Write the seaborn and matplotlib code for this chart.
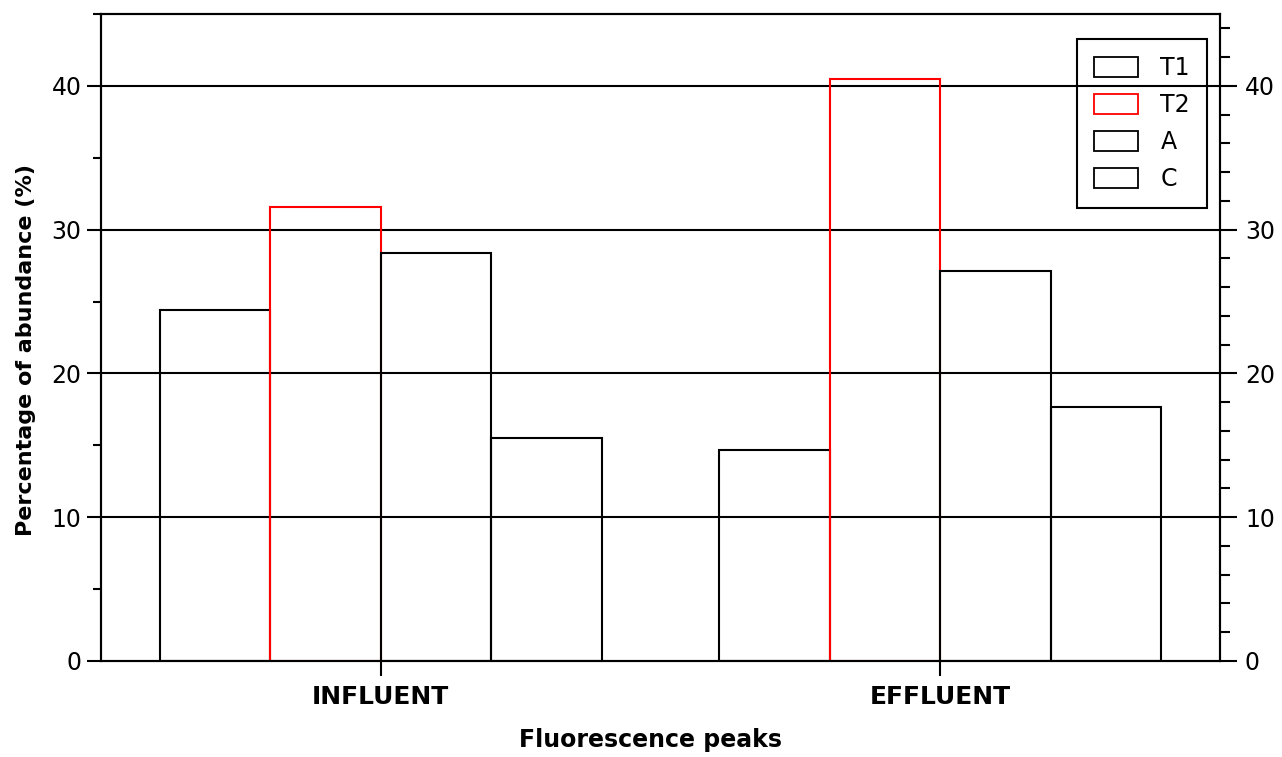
import matplotlib
matplotlib.use("Agg")
import matplotlib.pyplot as plt
import seaborn as sns
import pandas as pd
from matplotlib.patches import Patch
from matplotlib.ticker import MultipleLocator, FixedLocator

categories = ["INFLUENT", "EFFLUENT"]
peaks = ["T1", "T2", "A", "C"]
influent = [24.4, 31.6, 28.4, 15.5]
effluent = [14.7, 40.5, 27.1, 17.7]
peak_colors = ["black", "red", "black", "black"]

rows = []
for cat, vals in zip(categories, [influent, effluent]):
    for p, v in zip(peaks, vals):
        rows.append({"sample": cat, "peak": p, "value": v})
df = pd.DataFrame(rows)

sns.set_theme(style="white")
plt.rcParams["font.family"] = ["DejaVu Sans"]
plt.rcParams["text.color"] = "black"
plt.rcParams["axes.labelcolor"] = "black"
plt.rcParams["xtick.color"] = "black"
plt.rcParams["ytick.color"] = "black"

fig = plt.figure(figsize=(12.82, 7.57), dpi=100)
ax = fig.add_axes([101/1282, 96/757, (1220-101)/1282, (661-14)/757])

sns.barplot(data=df, x="sample", y="value", hue="peak", order=categories,
            hue_order=peaks, palette=dict(zip(peaks, peak_colors)),
            fill=False, linewidth=1.5, width=0.79, gap=0, ax=ax, legend=False,
            zorder=3)

ax.set_xlim(-0.5, 1.5)
ax.set_ylim(0, 45)

for s in ax.spines.values():
    s.set_visible(True)
    s.set_color("black")
    s.set_linewidth(1.5)

ax.yaxis.set_major_locator(FixedLocator([0, 10, 20, 30, 40]))
ax.yaxis.set_minor_locator(FixedLocator([5, 15, 25, 35, 45]))
ax.tick_params(axis="y", which="major", direction="out", length=10, width=1.5,
               color="black", labelsize=17, pad=4, left=True)
ax.tick_params(axis="y", which="minor", direction="out", length=5.5, width=1.5,
               color="black", left=True)
ax.tick_params(axis="x", which="major", direction="out", length=11, width=1.5,
               color="black", labelsize=18, pad=6, bottom=True)
for lbl in ax.get_xticklabels():
    lbl.set_fontweight("bold")

ax.grid(False)
for yv in [10, 20, 30, 40]:
    ax.axhline(yv, color="black", linewidth=1.5, zorder=2)

ax.set_xlabel("Fluorescence peaks", fontsize=17, fontweight="bold")
ax.set_ylabel("Percentage of abundance (%)", fontsize=16, fontweight="bold")
ax.xaxis.set_label_coords(0.4915, -0.103)
ax.yaxis.set_label_coords(-0.058, 0.48)

ax2 = ax.twinx()
ax2.set_ylim(0, 45)
ax2.yaxis.set_major_locator(FixedLocator([0, 10, 20, 30, 40]))
ax2.yaxis.set_minor_locator(MultipleLocator(2))
ax2.tick_params(axis="y", which="major", direction="out", length=12, width=1.5,
                color="black", labelsize=17, pad=6, right=True)
ax2.tick_params(axis="y", which="minor", direction="out", length=7, width=1.5,
                color="black", right=True)
for s in ax2.spines.values():
    s.set_color("black")
    s.set_linewidth(1.5)
ax2.grid(False)

handles = [Patch(facecolor="none", edgecolor=c, linewidth=1.3, label=p)
           for p, c in zip(peaks, peak_colors)]
leg = ax2.legend(handles=handles, loc="upper right", bbox_to_anchor=(0.9884, 0.9614),
                 fontsize=17, frameon=True, fancybox=False,
                 edgecolor="black", handlelength=1.86, handleheight=0.89,
                 labelspacing=0.55, borderpad=0.72, handletextpad=0.95,
                 borderaxespad=0)
frame = leg.get_frame()
frame.set_facecolor("none")
frame.set_edgecolor("black")
frame.set_linewidth(1.5)
frame.set_alpha(None)
for t in leg.get_texts():
    t.set_color("black")

fig.savefig("out.png", dpi=100)
